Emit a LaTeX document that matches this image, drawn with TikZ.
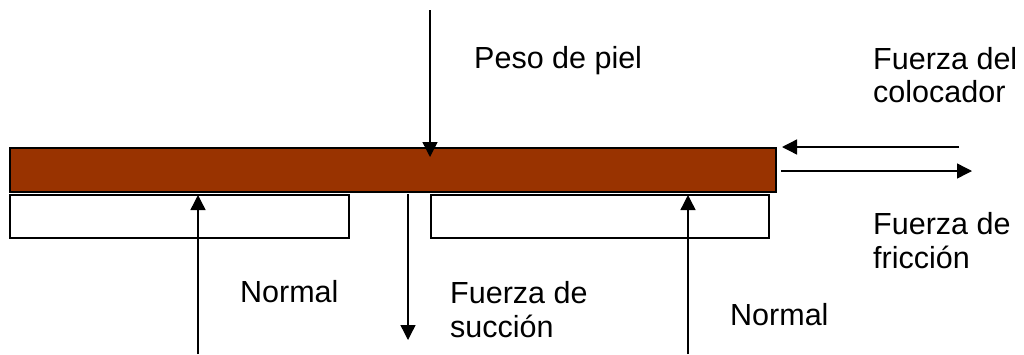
\documentclass[tikz,border=0pt]{standalone}
\usepackage{fontspec}
\setmainfont{Liberation Sans}
\usetikzlibrary{arrows.meta}
\definecolor{skin}{HTML}{993300}
\tikzset{
  force/.style={line width=1.4pt, -{Triangle[length=15pt,width=15pt]}},
  plate/.style={draw=black, line width=1.3pt},
  lbl/.style={anchor=base west, inner sep=0pt, font=\fontsize{30.5pt}{34pt}\selectfont}
}
\begin{document}
\begin{tikzpicture}[x=1pt,y=-1pt]
\useasboundingbox (0,0) rectangle (1024,354);
% bodies
\draw[plate, fill=skin] (10,148) rectangle (776,192);
\draw[plate, fill=white] (10,195) rectangle (349,238);
\draw[plate, fill=white] (431,195) rectangle (769,238);
% coordinates
\coordinate (pA) at (430,10);
\coordinate (pB) at (430,157);
\coordinate (nlA) at (198,354);
\coordinate (nlB) at (198,195);
\coordinate (nrA) at (688,354);
\coordinate (nrB) at (688,195);
\coordinate (sA) at (408,194);
\coordinate (sB) at (408,340);
\coordinate (cA) at (959,147);
\coordinate (cB) at (782,147);
\coordinate (fA) at (781,171);
\coordinate (fB) at (972,171);
% forces
\draw[force] (pA) -- (pB);
\draw[force] (nlA) -- (nlB);
\draw[force] (nrA) -- (nrB);
\draw[force] (sA) -- (sB);
\draw[force] (cA) -- (cB);
\draw[force] (fA) -- (fB);
% labels
\node[lbl] (peso) at (474,68) {Peso de piel};
\node[lbl] (col1) at (873,69) {Fuerza del};
\node[lbl] (col2) at (873,102) {colocador};
\node[lbl] (fr1) at (873,234) {Fuerza de};
\node[lbl] (fr2) at (873,268) {fricción};
\node[lbl] (nl) at (240,302) {Normal};
\node[lbl] (nr) at (730,325) {Normal};
\node[lbl] (su1) at (450,303) {Fuerza de};
\node[lbl] (su2) at (450,337) {succión};
\end{tikzpicture}
\end{document}
